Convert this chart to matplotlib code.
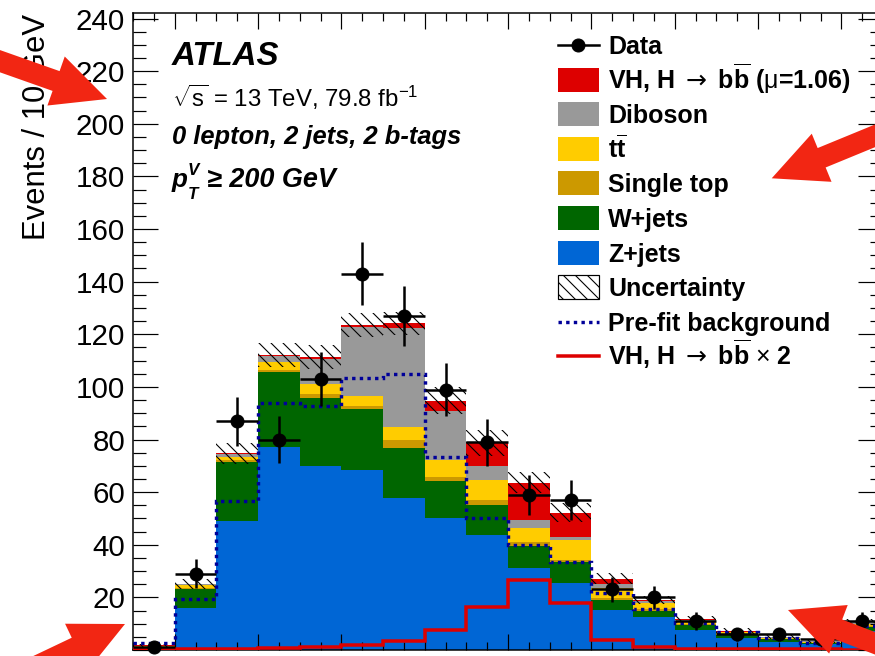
import numpy as np
import matplotlib
matplotlib.use("Agg")
import matplotlib.pyplot as plt
from matplotlib.patches import Polygon, Rectangle
from matplotlib.lines import Line2D

W, H, DPI = 875, 656, 72
plt.rcParams['font.family'] = ['Liberation Sans', 'DejaVu Sans']
plt.rcParams['mathtext.fontset'] = 'custom'
plt.rcParams['mathtext.rm'] = 'Liberation Sans'
plt.rcParams['mathtext.it'] = 'Liberation Sans:italic'
plt.rcParams['mathtext.bf'] = 'Liberation Sans:bold'
plt.rcParams['mathtext.sf'] = 'DejaVu Sans'
plt.rcParams['hatch.linewidth'] = 1.1

# ---------------- data (m_bb bins, 10 GeV wide) ----------------
bin_edges = np.arange(10, 200, 10)
data     = [1, 29, 87, 80, 103, 143, 127, 99, 79, 59, 57, 23, 20, 11, 6, 6, 4, 11]
data_err = [1.0, 5.4, 9.3, 8.9, 10.1, 12.0, 11.3, 9.9, 8.9, 7.7, 7.5, 4.8, 4.5, 3.3, 2.4, 2.4, 2.0, 3.3]
zjets    = [0.6, 15.8, 49.0, 77.1, 69.8, 68.5, 57.6, 50.0, 43.6, 31.0, 25.3, 15.2, 12.6, 7.6, 4.6, 3.2, 2.2, 7.4]
wjets    = [0.5, 7.3, 22.4, 28.5, 26.1, 23.2, 19.0, 14.2, 11.5, 8.5, 8.0, 3.8, 2.3, 1.8, 1.0, 0.8, 0.5, 1.5]
stop     = [0.2, 0.4, 0.7, 1.0, 1.5, 1.0, 3.1, 1.5, 2.0, 1.5, 1.0, 0.8, 0.6, 0.3, 0.2, 0.2, 0.1, 0.3]
ttbar    = [0.3, 1.2, 1.4, 2.8, 3.8, 3.7, 4.9, 6.4, 7.5, 5.5, 7.5, 3.8, 2.4, 1.2, 0.9, 0.4, 0.3, 0.8]
diboson  = [0.1, 0.3, 1.0, 2.2, 9.5, 26.2, 37.6, 18.7, 5.5, 3.0, 1.0, 1.5, 0.6, 0.4, 0.3, 0.2, 0.2, 0.5]
vh       = [0.05, 0.15, 0.25, 0.4, 0.6, 1.0, 1.9, 4.0, 8.6, 14.0, 9.4, 2.0, 0.6, 0.3, 0.2, 0.1, 0.1, 0.1]
unc      = [0.5, 2.0, 4.0, 4.5, 4.5, 4.5, 4.5, 5.0, 5.0, 4.0, 3.5, 2.0, 1.5, 1.2, 1.0, 0.8, 0.6, 1.0]
prefit   = [2.5, 19.3, 56.6, 93.8, 92.9, 103.5, 105.0, 73.3, 50.0, 40.0, 33.5, 21.7, 15.4, 10.1, 6.9, 4.4, 2.8, 9.1]
vh_x2    = [0.2, 0.3, 0.5, 0.8, 1.2, 1.9, 3.5, 7.6, 16.4, 26.6, 17.7, 3.8, 1.1, 0.5, 0.3, 0.2, 0.2, 0.1]

stack_names  = ['Z+jets', 'W+jets', 'Single top', 'ttbar', 'Diboson', 'VH']
stack_vals   = [zjets, wjets, stop, ttbar, diboson, vh]
stack_colors = ['#0066D5', '#006600', '#CC9900', '#FFCC00', '#999999', '#DD0000']

# ---------------- figure ----------------
fig = plt.figure(figsize=(W / DPI, H / DPI), dpi=DPI)
ax_l, ax_r, ax_t, ax_b = 133, 883, 12.5, 650
ax = fig.add_axes([ax_l / W, 1 - ax_b / H, (ax_r - ax_l) / W, (ax_b - ax_t) / H])

base = np.zeros(len(data))
for vals, col in zip(stack_vals, stack_colors):
    top = base + np.array(vals)
    ax.stairs(top, bin_edges, baseline=base, fill=True, color=col, lw=0, zorder=1)
    base = top
total = base
unc_a = np.array(unc)
ax.stairs(total + unc_a, bin_edges, baseline=total - unc_a, fill=True,
          facecolor='none', edgecolor='black', hatch='\\\\', lw=0, zorder=2)
ax.stairs(prefit, bin_edges, baseline=None, color='#000099', lw=3.4,
          linestyle=(0, (1, 1.25)), zorder=3)
ax.stairs(vh_x2, bin_edges, baseline=None, color='#DD0000', lw=3.5, zorder=3)

centers = 0.5 * (bin_edges[:-1] + bin_edges[1:])
ax.errorbar(centers, data, xerr=5, yerr=data_err, fmt='o', color='black',
            ms=13, lw=2.5, capsize=0, zorder=5, clip_on=False)

ax.set_xlim(10, 190)
ax.set_ylim(0, 242.3)
ax.set_xticks(np.arange(20, 200, 20))
ax.set_xticks(np.arange(10, 195, 5), minor=True)
ax.set_yticks(np.arange(0, 241, 20))
ax.set_yticks(np.arange(0, 242, 5), minor=True)
ax.set_xticklabels([])
ax.set_yticklabels(['' if v == 0 else str(v) for v in range(0, 241, 20)])
ax.tick_params(which='both', direction='in', top=True, right=True, width=1.2)
ax.tick_params(axis='y', which='major', length=25, labelsize=29.5, pad=8)
ax.tick_params(axis='y', which='minor', length=13)
ax.tick_params(axis='x', which='major', length=16)
ax.tick_params(axis='x', which='minor', length=8)
for s in ax.spines.values():
    s.set_linewidth(1.5)

ax.set_ylabel('Events / 10 GeV', fontsize=31, loc='top')
ax.yaxis.set_label_coords((52 - ax_l) / (ax_r - ax_l), (ax_b - 14) / (ax_b - ax_t))


def fx(x):
    return x / W


def fy(y):
    return 1 - y / H


# ---------------- labels ----------------
fig.text(fx(172), fy(65), 'ATLAS', fontsize=33, fontweight='bold', style='italic', va='baseline')
fig.text(fx(172), fy(107), r'$\sqrt{\mathrm{s}}$ = 13 TeV, 79.8 fb$^{-1}$', fontsize=24, va='baseline')
fig.text(fx(172), fy(144), '0 lepton, 2 jets, 2 b-tags', fontsize=25.5, fontweight='bold',
         style='italic', va='baseline')
fig.text(fx(172), fy(187), 'p', fontsize=26, fontweight='bold', style='italic', va='baseline')
fig.text(fx(188), fy(175), 'V', fontsize=17, fontweight='bold', style='italic', va='baseline')
fig.text(fx(188), fy(199), 'T', fontsize=17, fontweight='bold', style='italic', va='baseline')
fig.text(fx(207), fy(187), '≥ 200 GeV', fontsize=27, fontweight='bold', style='italic', va='baseline')

# ---------------- legend ----------------
leg_labels = ['Data',
              'VH, H $\\mathsf{\\rightarrow}$ b$\\overline{\\mathbf{b}}$ ($\\mathrm{\\mu}$=1.06)',
              'Diboson',
              r'$\mathbf{t}\overline{\mathbf{t}}$',
              'Single top', 'W+jets', 'Z+jets', 'Uncertainty',
              'Pre-fit background',
              'VH, H $\\mathsf{\\rightarrow}$ b$\\overline{\\mathbf{b}}$ $\\times$ 2']
leg_kind = ['data', '#DD0000', '#999999', '#FFCC00', '#CC9900', '#006600', '#0066D5',
            'hatch', 'prefit', 'vhline']
hx0, hx1, tx = 558, 599, 608
for i, (lab, kind) in enumerate(zip(leg_labels, leg_kind)):
    yc = 45 + 34.6 * i
    if kind == 'data':
        fig.add_artist(Line2D([fx(hx0), fx(hx1)], [fy(yc), fy(yc)], color='black', lw=2.5,
                              transform=fig.transFigure))
        fig.add_artist(Line2D([fx(578)], [fy(yc)], color='black', marker='o', ms=13,
                              transform=fig.transFigure))
    elif kind == 'hatch':
        fig.add_artist(Rectangle((fx(hx0), fy(yc + 12)), (hx1 - hx0) / W, 24 / H,
                                 facecolor='white', edgecolor='black', hatch='\\\\', lw=1.2,
                                 transform=fig.transFigure))
    elif kind == 'prefit':
        fig.add_artist(Line2D([fx(hx0), fx(hx1)], [fy(yc), fy(yc)], color='#000099', lw=3.4,
                              linestyle=(0, (1, 1.25)), transform=fig.transFigure))
    elif kind == 'vhline':
        fig.add_artist(Line2D([fx(hx0), fx(hx1)], [fy(yc), fy(yc)], color='#DD0000', lw=3.5,
                              transform=fig.transFigure))
    else:
        fig.add_artist(Rectangle((fx(hx0), fy(yc + 12)), (hx1 - hx0) / W, 24 / H,
                                 facecolor=kind, edgecolor='none', transform=fig.transFigure))
    fig.text(fx(tx), fy(yc + 9), lab, fontsize=25, fontweight='bold', va='baseline')


# ---------------- red annotation arrows ----------------
def arrow(tip, tail, shaft_w=21, head_w=52, head_len=54):
    tip = np.array(tip, float)
    tail = np.array(tail, float)
    d = (tip - tail) / np.linalg.norm(tip - tail)
    n = np.array([-d[1], d[0]])
    b = tip - head_len * d
    pts = [tail + n * shaft_w / 2, b + n * shaft_w / 2, b + n * head_w / 2, tip,
           b - n * head_w / 2, b - n * shaft_w / 2, tail - n * shaft_w / 2]
    pts = [(fx(p[0]), fy(p[1])) for p in pts]
    fig.add_artist(Polygon(pts, closed=True, facecolor='#F22613', edgecolor='none',
                           transform=fig.transFigure, zorder=10))


arrow((107, 99), (-60, 40))
arrow((771.7, 178.3), (950, 105))
arrow((125, 624), (-20, 693))
arrow((788, 610), (950, 672))

fig.savefig('out.png', dpi=DPI)
